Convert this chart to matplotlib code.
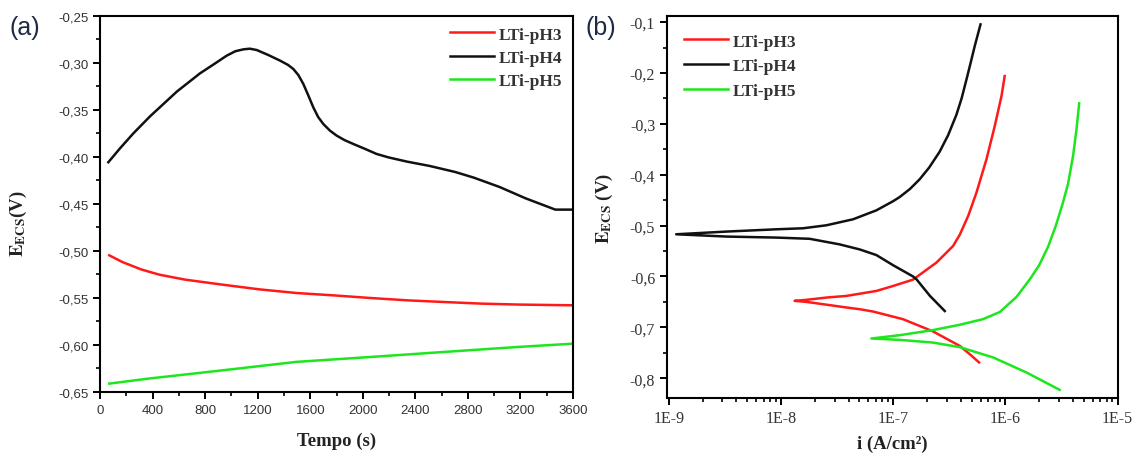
import numpy as np
import matplotlib
matplotlib.use("Agg")
import matplotlib.pyplot as plt
from matplotlib.ticker import MultipleLocator, FuncFormatter, LogLocator, NullFormatter

plt.rcParams['mathtext.fontset'] = 'stix'

# (a) open circuit potential vs time
t_pH3 = [70, 169, 310, 451, 648, 930, 1211, 1493, 1775, 2056, 2338, 2620, 2901, 3183, 3600]
E_pH3 = [-0.5046, -0.5117, -0.5195, -0.5252, -0.5305, -0.5358, -0.5408, -0.5447,
         -0.5472, -0.5500, -0.5525, -0.5543, -0.5560, -0.5570, -0.5578]

t_pH4 = [63, 152, 254, 381, 584, 761, 870, 964, 1030, 1091, 1140, 1192, 1280, 1370, 1430,
         1471, 1510, 1547, 1585, 1623, 1660, 1699, 1750, 1801, 1860, 1928, 2010, 2105, 2197,
         2338, 2507, 2704, 2845, 3042, 3239, 3465, 3600]
E_pH4 = [-0.4056, -0.3908, -0.3748, -0.3567, -0.3305, -0.3110, -0.3010, -0.2922, -0.2875,
         -0.2855, -0.2848, -0.2862, -0.2915, -0.2975, -0.3020, -0.3064, -0.3130, -0.3223,
         -0.3345, -0.3472, -0.3575, -0.3649, -0.3720, -0.3773, -0.3820, -0.3862, -0.3910,
         -0.3968, -0.4005, -0.4050, -0.4095, -0.4160, -0.4220, -0.4320, -0.4440, -0.4560,
         -0.4560]

t_pH5 = [70, 366, 930, 1493, 2056, 2620, 3183, 3600]
E_pH5 = [-0.6411, -0.6358, -0.6270, -0.6180, -0.6128, -0.6074, -0.6021, -0.5986]

# (b) polarization curves, cathodic end -> Ecorr -> anodic end
i_pH3 = [5.82e-7, 4.81e-7, 3.92e-7, 2.26e-7, 1.22e-7, 6.61e-8, 5.04e-8, 3.82e-8, 1.68e-8,
         1.32e-8,
         1.68e-8, 2.54e-8, 3.82e-8, 7.08e-8, 9.98e-8, 1.50e-7, 2.43e-7, 3.42e-7, 3.92e-7,
         4.68e-7, 5.52e-7, 6.78e-7, 8.04e-7, 9.23e-7, 9.86e-7]
Ep_pH3 = [-0.769, -0.7528, -0.7366, -0.708, -0.684, -0.669, -0.6645, -0.661, -0.650,
          -0.648,
          -0.646, -0.6415, -0.6383, -0.6285, -0.6187, -0.6063, -0.5727, -0.540, -0.518,
          -0.480, -0.4352, -0.3697, -0.3043, -0.2454, -0.2061]

i_pH4 = [2.88e-7, 2.12e-7, 1.61e-7, 1.50e-7, 9.98e-8, 7.08e-8, 5.04e-8, 3.33e-8,
         1.80e-8, 9.08e-9, 3.25e-9,
         1.16e-9,
         3.25e-9, 9.08e-9, 1.57e-8, 2.54e-8, 4.39e-8, 7.08e-8, 9.98e-8, 1.14e-7, 1.41e-7,
         1.72e-7, 2.09e-7, 2.59e-7, 3.09e-7, 3.66e-7, 4.07e-7, 4.50e-7, 4.90e-7, 5.33e-7,
         6.00e-7]
Ep_pH4 = [-0.668, -0.638, -0.6055, -0.600, -0.578, -0.558, -0.547, -0.537,
          -0.526, -0.5236, -0.5216,
          -0.5171,
          -0.5118, -0.5073, -0.5053, -0.4994, -0.4876, -0.470, -0.452, -0.444, -0.428,
          -0.409, -0.386, -0.355, -0.322, -0.282, -0.250, -0.2126, -0.180, -0.147,
          -0.1045]

i_pH5 = [3.05e-6, 1.54e-6, 7.78e-7, 3.92e-7, 2.26e-7, 1.14e-7,
         6.38e-8,
         1.14e-7, 2.26e-7, 3.92e-7, 6.31e-7, 8.91e-7, 1.26e-6, 1.66e-6, 2.00e-6, 2.40e-6,
         2.82e-6, 3.24e-6, 3.62e-6, 4.02e-6, 4.31e-6, 4.55e-6]
Ep_pH5 = [-0.823, -0.7888, -0.7593, -0.739, -0.730, -0.7247,
          -0.722,
          -0.7155, -0.7055, -0.695, -0.684, -0.670, -0.640, -0.605, -0.578, -0.542,
          -0.500, -0.457, -0.418, -0.362, -0.310, -0.2597]

labels = ['LTi-pH3', 'LTi-pH4', 'LTi-pH5']
colors = ['#ff1a1a', '#111111', '#1ee61e']

fig = plt.figure(figsize=(11.37, 4.6), dpi=100)
ax1 = fig.add_axes([0.0880, 0.1457, 0.4160, 0.8174])
ax2 = fig.add_axes([0.5866, 0.1326, 0.3967, 0.8304])

serif = 'Liberation Serif'
sans = 'Liberation Sans'

# panel (a)
ax1.plot(t_pH3, E_pH3, color=colors[0], lw=1.8, label=labels[0])
ax1.plot(t_pH4, E_pH4, color=colors[1], lw=1.8, label=labels[1])
ax1.plot(t_pH5, E_pH5, color=colors[2], lw=1.8, label=labels[2])
ax1.set_xlim(0, 3600)
ax1.set_ylim(-0.65, -0.25)
ax1.xaxis.set_major_locator(MultipleLocator(400))
ax1.xaxis.set_minor_locator(MultipleLocator(200))
ax1.yaxis.set_major_locator(MultipleLocator(0.05))
ax1.yaxis.set_minor_locator(MultipleLocator(0.025))
ax1.yaxis.set_major_formatter(FuncFormatter(lambda v, p: ('%.2f' % v).replace('.', ',')))
for lab in ax1.get_xticklabels() + ax1.get_yticklabels():
    lab.set_fontfamily(sans)
    lab.set_fontsize(9.5)
    lab.set_color('#333333')
ax1.set_xlabel('Tempo (s)', fontfamily=serif, fontweight='bold', fontsize=13.5, color='#222222')
ax1.set_ylabel(r'$\mathbf{E}_{\mathbf{ECS}}$(V)', fontfamily=serif, fontweight='bold',
               fontsize=13.5, color='#222222')
ax1.yaxis.set_label_coords(-0.15, 0.45)
ax1.xaxis.set_label_coords(0.5, -0.105)
leg1 = ax1.legend(loc='upper right', frameon=False, handlelength=2.5, handletextpad=0.3,
                  labelspacing=0.4, borderaxespad=0.2,
                  prop={'family': serif, 'weight': 'bold', 'size': 12.5})
for tx in leg1.get_texts():
    tx.set_color('#333333')
fig.text(0.008, 0.94, '(a)', fontfamily=sans, fontsize=18, color='#1f2a44', va='center')

# panel (b)
ax2.plot(i_pH3, Ep_pH3, color=colors[0], lw=1.8, label=labels[0])
ax2.plot(i_pH4, Ep_pH4, color=colors[1], lw=1.8, label=labels[1])
ax2.plot(i_pH5, Ep_pH5, color=colors[2], lw=1.8, label=labels[2])
ax2.set_xscale('log')
ax2.set_xlim(0.96e-9, 1.01e-5)
ax2.set_ylim(-0.839, -0.088)
ax2.xaxis.set_major_locator(LogLocator(base=10, numticks=10))
ax2.xaxis.set_minor_locator(LogLocator(base=10, subs=np.arange(2, 10), numticks=20))
ax2.xaxis.set_minor_formatter(NullFormatter())
ax2.xaxis.set_major_formatter(FuncFormatter(lambda v, p: '1E%d' % round(np.log10(v))))
ax2.yaxis.set_major_locator(MultipleLocator(0.1))
ax2.yaxis.set_minor_locator(MultipleLocator(0.05))
ax2.yaxis.set_major_formatter(FuncFormatter(lambda v, p: ('%.1f' % v).replace('.', ',')))
for lab in ax2.get_xticklabels() + ax2.get_yticklabels():
    lab.set_fontfamily(serif)
    lab.set_fontsize(11.5)
    lab.set_color('#333333')
ax2.set_xlabel('i (A/cm²)', fontfamily=serif, fontweight='bold', fontsize=13.5, color='#222222')
ax2.set_ylabel(r'$\mathbf{E}_{\mathbf{ECS}}$ (V)', fontfamily=serif, fontweight='bold',
               fontsize=13.5, color='#222222')
ax2.yaxis.set_label_coords(-0.115, 0.5)
ax2.xaxis.set_label_coords(0.5, -0.095)
leg2 = ax2.legend(loc='upper left', frameon=False, handlelength=2.5, handletextpad=0.3,
                  labelspacing=0.5, borderaxespad=0.6,
                  prop={'family': serif, 'weight': 'bold', 'size': 12.5})
for tx in leg2.get_texts():
    tx.set_color('#333333')
fig.text(0.515, 0.94, '(b)', fontfamily=sans, fontsize=18, color='#1f2a44', va='center')

for ax in (ax1, ax2):
    for s in ax.spines.values():
        s.set_linewidth(1.5)
    ax.tick_params(which='major', direction='out', length=5, width=1.4)
    ax.tick_params(which='minor', direction='out', length=3, width=1.2)

fig.savefig('out.png', dpi=100)
